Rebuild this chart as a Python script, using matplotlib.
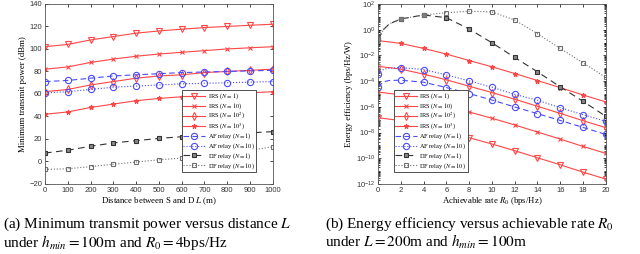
import numpy as np
import matplotlib
matplotlib.use("Agg")
import matplotlib.pyplot as plt
from matplotlib.ticker import LogLocator, NullFormatter, FixedLocator

plt.rcParams['font.family'] = ['Liberation Serif', 'DejaVu Serif']
plt.rcParams['mathtext.fontset'] = 'stix'

# ---- (a) minimum transmit power vs distance ----
dist = [0, 100, 200, 300, 400, 500, 600, 700, 800, 900, 1000]
irs_n1 = [102, 104, 108, 111, 114, 116, 117.5, 119, 120, 121, 122]
irs_n10 = [82, 84, 88, 91, 93.5, 95.5, 97, 98.5, 100, 101, 102]
irs_n100 = [62, 64, 68, 71, 74, 76, 77, 79, 80, 81, 82]
irs_n1000 = [42, 44, 48, 51, 54, 56, 57.5, 59, 60, 61, 62]
af_n1 = [71, 72, 74, 76, 77, 78, 79, 79.5, 80, 80.5, 81]
af_n10 = [61, 62, 64, 66, 67, 68, 69, 69.5, 70, 70.5, 71]
df_n1 = [7.5, 10, 13.5, 16.5, 18.5, 20.5, 22, 23.5, 24.5, 25.5, 26.5]
df_n10 = [-7, -6.5, -4.5, -2.5, -0.5, 1.5, 3, 5, 7, 10, 13]

# ---- (b) energy efficiency vs rate (log10 of bps/Hz/W) ----
rate = [0, 2, 4, 6, 8, 10, 12, 14, 16, 18, 20]
ee_irs_n1000 = [-0.85, -1.07, -1.46, -1.90, -2.40, -2.89, -3.41, -3.96, -4.51, -5.08, -5.62]
ee_irs_n100 = [-2.85, -3.07, -3.46, -3.90, -4.40, -4.89, -5.41, -5.96, -6.51, -7.08, -7.62]
ee_irs_n10 = [-4.85, -5.07, -5.46, -5.90, -6.40, -6.89, -7.41, -7.96, -8.51, -9.08, -9.62]
ee_irs_n1 = [-6.85, -7.07, -7.46, -7.90, -8.40, -8.89, -9.41, -9.96, -10.51, -11.08, -11.62]
rate_af = [0, 0.5, 1, 2, 4, 6, 8, 10, 12, 14, 16, 18, 20]
ee_af_n1 = [-4.46, -4.05, -3.95, -3.93, -4.09, -4.5, -4.97, -5.47, -6.01, -6.53, -7.06, -7.60, -8.15]
ee_af_n10 = [-3.42, -3.08, -2.99, -2.95, -3.1, -3.52, -3.98, -4.48, -5.03, -5.49, -6.07, -6.61, -7.13]
rate_df = [0, 0.5, 1, 2, 4, 6, 8, 10, 12, 14, 16, 18, 20]
ee_df_n1 = [-0.76, 0.02, 0.45, 0.83, 1.14, 0.93, 0.05, -1.02, -2.16, -3.28, -4.45, -5.57, -6.74]
ee_df_n10 = [-0.76, 0.02, 0.45, 0.83, 1.14, 1.32, 1.43, 1.38, 0.75, -0.32, -1.46, -2.58, -3.72]

labels = [r'IRS ($N=1$)', r'IRS ($N=10$)', r'IRS ($N=10^2$)', r'IRS ($N=10^3$)',
          r'AF relay ($N=1$)', r'AF relay ($N=10$)', r'DF relay ($N=1$)', r'DF relay ($N=10$)']

red = '#ff4646'
blue = '#4a4aff'
dk = '#333333'
gr = '#707070'

styles = [
    dict(color=red, ls='-', marker='v', mfc='none', ms=4),
    dict(color=red, ls='-', marker='x', ms=2.5),
    dict(color=red, ls='-', marker='d', mfc='none', ms=4),
    dict(color=red, ls='-', marker='*', ms=3.5),
    dict(color=blue, ls=(0, (5, 3)), marker='o', mfc='none', ms=4.5),
    dict(color=blue, ls=':', marker='o', mfc='none', ms=4.5),
    dict(color=dk, ls=(0, (6, 4)), marker='s', mfc='#888888', ms=3.2),
    dict(color=gr, ls=':', marker='s', mfc='none', ms=3.2),
]

fig = plt.figure(figsize=(6.4, 2.54), dpi=100)
ax1 = fig.add_axes([0.0703, 0.2756, 0.356, 0.709])
ax2 = fig.add_axes([0.5906, 0.2756, 0.356, 0.709])

series_a = [irs_n1, irs_n10, irs_n100, irs_n1000, af_n1, af_n10, df_n1, df_n10]
for y, st, lab in zip(series_a, styles, labels):
    ax1.plot(dist, y, lw=0.8, mew=0.8, label=lab, **st)

series_b = [(rate, ee_irs_n1), (rate, ee_irs_n10), (rate, ee_irs_n100), (rate, ee_irs_n1000),
            (rate_af, ee_af_n1), (rate_af, ee_af_n10), (rate_df, ee_df_n1), (rate_df, ee_df_n10)]
for (x, y), st, lab in zip(series_b, styles, labels):
    x = np.array(x)
    marks = [i for i in range(len(x)) if x[i] % 2 == 0]
    ax2.plot(x, 10.0 ** np.array(y), lw=0.8, mew=0.8, markevery=marks, label=lab, **st)

ax1.set_xlim(0, 1000)
ax1.set_ylim(-20, 140)
ax1.set_xticks(range(0, 1001, 100))
ax1.set_yticks(range(-20, 141, 20))
ax1.set_xlabel(r'Distance between S and D $L$ (m)', fontsize=6.3, labelpad=1)
ax1.set_ylabel('Minimum transmit power (dBm)', fontsize=6.3, labelpad=2)

ax2.set_yscale('log')
ax2.set_xlim(0, 20)
ax2.set_ylim(1e-12, 1e2)
ax2.set_xticks(range(0, 21, 2))
ax2.yaxis.set_major_locator(FixedLocator([10.0 ** k for k in range(-12, 3, 2)]))
ax2.yaxis.set_minor_locator(LogLocator(base=10, subs=np.arange(1, 10), numticks=100))
ax2.yaxis.set_minor_formatter(NullFormatter())
ax2.set_yticklabels([r'$\mathregular{10^{%d}}$' % k for k in range(-12, 3, 2)])
ax2.set_xlabel(r'Achievable rate $R_0$ (bps/Hz)', fontsize=6.3, labelpad=1)
ax2.set_ylabel('Energy efficiency (bps/Hz/W)', fontsize=6.3, labelpad=2)

for ax in (ax1, ax2):
    ax.tick_params(which='both', direction='in', top=True, right=True, width=0.5, pad=2)
    ax.tick_params(which='major', length=2.5)
    ax.tick_params(which='minor', length=1.3)
    for t in ax.get_xticklabels() + ax.get_yticklabels():
        t.set_fontfamily('Liberation Sans')
        t.set_fontsize(5.5)
        t.set_color('#333333')
    for s in ax.spines.values():
        s.set_linewidth(0.6)
        s.set_color('#555555')

leg_kw = dict(fontsize=4.6, frameon=True, fancybox=False, framealpha=1, edgecolor='#333333',
              handlelength=3.4, labelspacing=0.0, borderpad=0.2, handletextpad=0.4,
              borderaxespad=0)
l1 = ax1.legend(loc='lower right', bbox_to_anchor=(0.925, 0.067), **leg_kw)
l2 = ax2.legend(loc='lower left', bbox_to_anchor=(0.07, 0.067), **leg_kw)
for l in (l1, l2):
    l.get_frame().set_linewidth(0.6)

fig.text(0.005, 0.118, r'(a) Minimum transmit power versus distance $L$', fontsize=11, va='center')
fig.text(0.005, 0.046, r'under $h_{min}=100$m and $R_0=4$bps/Hz', fontsize=11, va='center')
fig.text(0.508, 0.118, r'(b) Energy efficiency versus achievable rate $R_0$', fontsize=11, va='center')
fig.text(0.508, 0.046, r'under $L=200$m and $h_{min}=100$m', fontsize=11, va='center')

fig.savefig('out.png', dpi=100)
